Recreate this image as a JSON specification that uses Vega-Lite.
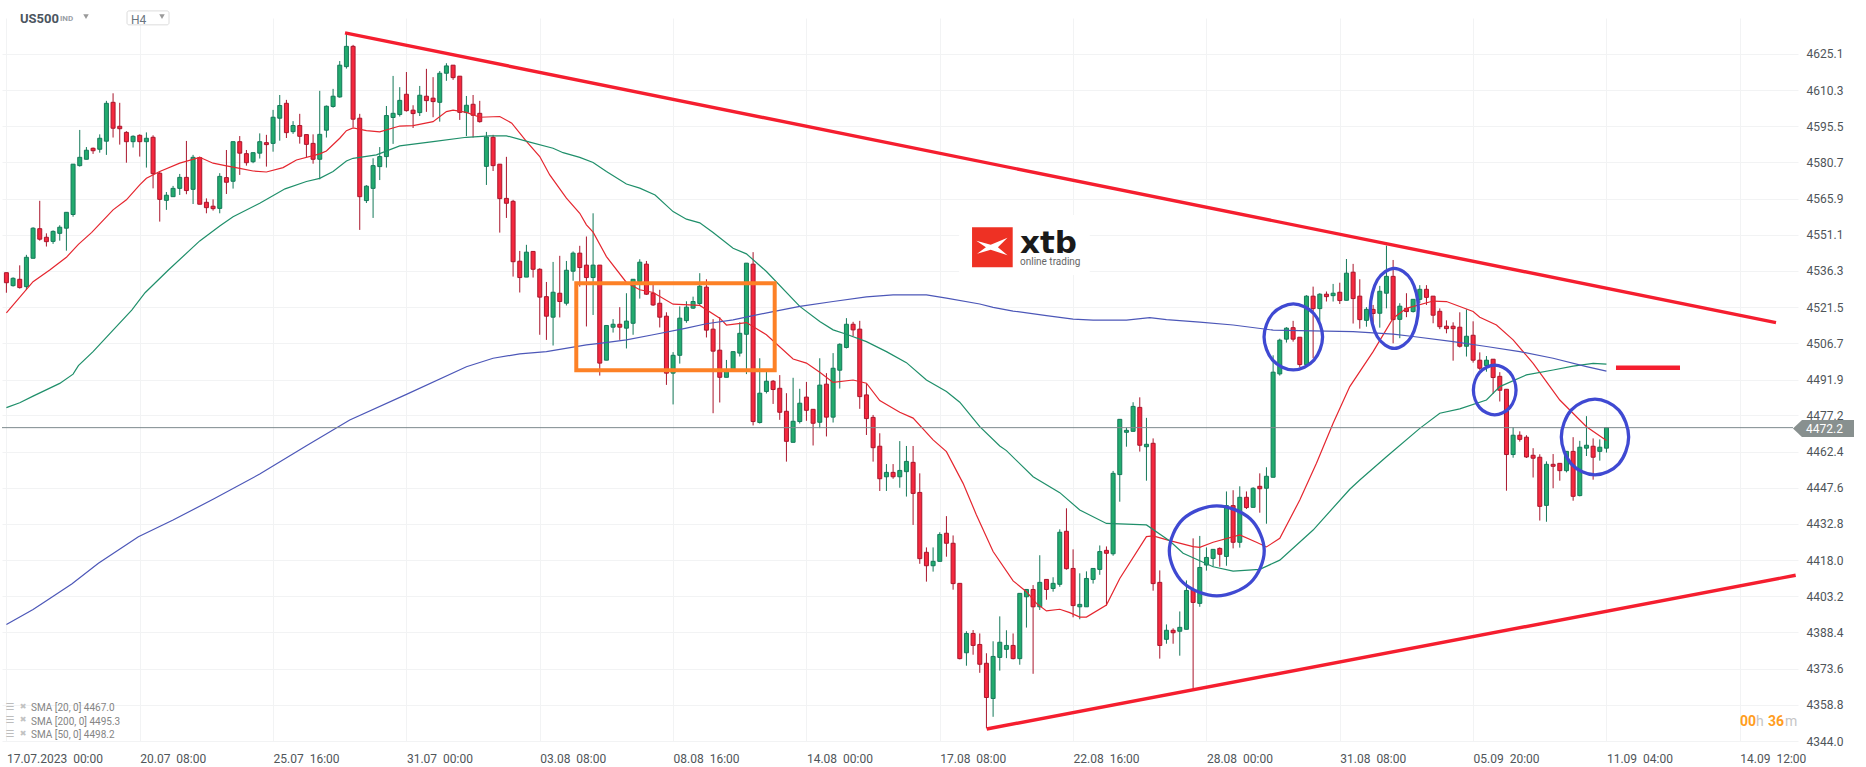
{
"$schema":"https://vega.github.io/schema/vega-lite/v6.json",
"width":1796,"height":723,
"autosize":{"type":"none"},
"padding":{"left":2,"top":18,"right":68,"bottom":26},
"background":"white",
"config":{"view":{"stroke":null},"font":"Roboto"},
"datasets":{
"candles":[
{"i":0,"o":4535.6,"h":4535.6,"l":4527.4,"c":4531.5,"d":"d"},{"i":1,"o":4530.3,"h":4533.7,"l":4529.9,"c":4533.3,"d":"u"},{"i":2,"o":4532.9,"h":4538.6,"l":4529.1,"c":4529.5,"d":"d"},{"i":3,"o":4529.9,"h":4542.9,"l":4528.5,"c":4541.9,"d":"u"},{"i":4,"o":4541.5,"h":4554.2,"l":4541.5,"c":4553.8,"d":"u"},{"i":5,"o":4553.6,"h":4565,"l":4548.7,"c":4549.3,"d":"d"},{"i":6,"o":4550.1,"h":4551.7,"l":4546.3,"c":4548.3,"d":"d"},{"i":7,"o":4548.4,"h":4552.9,"l":4547.4,"c":4552.5,"d":"u"},{"i":8,"o":4551.7,"h":4555,"l":4548.7,"c":4554.2,"d":"u"},{"i":9,"o":4553.8,"h":4560.3,"l":4544.6,"c":4560.3,"d":"u"},
{"i":10,"o":4559.4,"h":4580,"l":4558.5,"c":4580,"d":"u"},{"i":11,"o":4579.4,"h":4594,"l":4579,"c":4582.8,"d":"u"},{"i":12,"o":4582,"h":4587,"l":4582,"c":4585.7,"d":"u"},{"i":13,"o":4586.5,"h":4586.8,"l":4584.2,"c":4585.5,"d":"d"},{"i":14,"o":4586.1,"h":4592.2,"l":4584.7,"c":4590.6,"d":"u"},{"i":15,"o":4589.4,"h":4605.9,"l":4583.8,"c":4604.9,"d":"u"},{"i":16,"o":4605.3,"h":4609,"l":4590.9,"c":4594.7,"d":"d"},{"i":17,"o":4595.5,"h":4605.1,"l":4588,"c":4594.5,"d":"d"},{"i":18,"o":4593,"h":4593.5,"l":4580.6,"c":4589.2,"d":"d"},{"i":19,"o":4589.2,"h":4591.8,"l":4586.8,"c":4591.4,"d":"u"},
{"i":20,"o":4591.8,"h":4592.2,"l":4583.1,"c":4589.2,"d":"d"},{"i":21,"o":4589.2,"h":4593,"l":4578.6,"c":4590.6,"d":"u"},{"i":22,"o":4591,"h":4591.8,"l":4570.1,"c":4576.1,"d":"d"},{"i":23,"o":4576.3,"h":4577,"l":4556.5,"c":4565.6,"d":"d"},{"i":24,"o":4565.2,"h":4568.6,"l":4561.3,"c":4567.3,"d":"u"},{"i":25,"o":4566.7,"h":4571.1,"l":4566.7,"c":4570.1,"d":"u"},{"i":26,"o":4570.1,"h":4576,"l":4567.4,"c":4574.6,"d":"u"},{"i":27,"o":4574.6,"h":4589.5,"l":4567.7,"c":4569.2,"d":"d"},{"i":28,"o":4569.7,"h":4583.8,"l":4563.7,"c":4582.8,"d":"u"},{"i":29,"o":4582.7,"h":4583.1,"l":4563.6,"c":4563.6,"d":"d"},
{"i":30,"o":4564.4,"h":4566,"l":4559.9,"c":4562.2,"d":"d"},{"i":31,"o":4562.8,"h":4565.6,"l":4561,"c":4561.8,"d":"d"},{"i":32,"o":4561.9,"h":4576.3,"l":4559.9,"c":4575,"d":"u"},{"i":33,"o":4574.5,"h":4585.8,"l":4567.8,"c":4572.6,"d":"d"},{"i":34,"o":4573,"h":4589.2,"l":4570,"c":4589.2,"d":"u"},{"i":35,"o":4589.2,"h":4591.5,"l":4575.6,"c":4584.5,"d":"d"},{"i":36,"o":4584.3,"h":4585.8,"l":4579.4,"c":4580.6,"d":"d"},{"i":37,"o":4581,"h":4584.7,"l":4580.4,"c":4584.7,"d":"u"},{"i":38,"o":4584.5,"h":4592.6,"l":4582.3,"c":4589.2,"d":"u"},{"i":39,"o":4588.8,"h":4592,"l":4579,"c":4588,"d":"d"},
{"i":40,"o":4588.5,"h":4602.2,"l":4585.1,"c":4599.2,"d":"u"},{"i":41,"o":4598.8,"h":4608.3,"l":4589.6,"c":4604,"d":"u"},{"i":42,"o":4604.9,"h":4606.3,"l":4590.7,"c":4592.9,"d":"d"},{"i":43,"o":4593.3,"h":4597.6,"l":4592.4,"c":4595.8,"d":"u"},{"i":44,"o":4595.8,"h":4600.6,"l":4588.4,"c":4591.4,"d":"d"},{"i":45,"o":4592.1,"h":4592.1,"l":4582.7,"c":4588.1,"d":"d"},{"i":46,"o":4588.5,"h":4592.2,"l":4580.2,"c":4582,"d":"d"},{"i":47,"o":4582,"h":4610,"l":4573.8,"c":4592.2,"d":"u"},{"i":48,"o":4593.9,"h":4604,"l":4590.9,"c":4603.7,"d":"u"},{"i":49,"o":4603.6,"h":4610.8,"l":4603.1,"c":4607.8,"d":"u"},
{"i":50,"o":4607.5,"h":4622.2,"l":4607.2,"c":4620.5,"d":"u"},{"i":51,"o":4619.9,"h":4634,"l":4619.1,"c":4628.2,"d":"u"},{"i":52,"o":4628.2,"h":4628.8,"l":4595.1,"c":4598.4,"d":"d"},{"i":53,"o":4598.8,"h":4600.6,"l":4553.1,"c":4566.7,"d":"d"},{"i":54,"o":4565.1,"h":4571.4,"l":4564.1,"c":4571,"d":"u"},{"i":55,"o":4570.1,"h":4582.4,"l":4558,"c":4579.4,"d":"u"},{"i":56,"o":4579,"h":4587,"l":4573.5,"c":4583.1,"d":"u"},{"i":57,"o":4583.1,"h":4603.8,"l":4578.6,"c":4599.9,"d":"u"},{"i":58,"o":4599.1,"h":4616.1,"l":4588.3,"c":4600.8,"d":"u"},{"i":59,"o":4600.3,"h":4611.5,"l":4599.5,"c":4606.1,"d":"u"},
{"i":60,"o":4608.6,"h":4617.7,"l":4601.5,"c":4601.9,"d":"d"},{"i":61,"o":4602.1,"h":4604.1,"l":4594.8,"c":4600.7,"d":"d"},{"i":62,"o":4601.1,"h":4612,"l":4599.7,"c":4608.2,"d":"u"},{"i":63,"o":4607.8,"h":4619,"l":4601.4,"c":4606,"d":"d"},{"i":64,"o":4607,"h":4615.6,"l":4599.2,"c":4605.6,"d":"d"},{"i":65,"o":4605.3,"h":4618.1,"l":4597.4,"c":4617.2,"d":"u"},{"i":66,"o":4617.2,"h":4621.3,"l":4614.1,"c":4620.2,"d":"u"},{"i":67,"o":4620.5,"h":4620.5,"l":4614.5,"c":4615.4,"d":"d"},{"i":68,"o":4616,"h":4616,"l":4598.1,"c":4601.2,"d":"d"},{"i":69,"o":4601.1,"h":4607.9,"l":4591.5,"c":4604.1,"d":"u"},
{"i":70,"o":4604.5,"h":4608.3,"l":4590.9,"c":4600,"d":"d"},{"i":71,"o":4600.8,"h":4605.9,"l":4597,"c":4597.4,"d":"d"},{"i":72,"o":4579.1,"h":4593.2,"l":4571.5,"c":4591.1,"d":"u"},{"i":73,"o":4591,"h":4592,"l":4577.2,"c":4579.4,"d":"d"},{"i":74,"o":4580,"h":4580,"l":4552,"c":4565.9,"d":"d"},{"i":75,"o":4566,"h":4583,"l":4558,"c":4564,"d":"d"},{"i":76,"o":4564.8,"h":4565.4,"l":4534,"c":4540.1,"d":"d"},{"i":77,"o":4540.3,"h":4544.5,"l":4527.5,"c":4533.6,"d":"d"},{"i":78,"o":4533.8,"h":4547,"l":4533.8,"c":4544,"d":"u"},{"i":79,"o":4544.3,"h":4544.3,"l":4533.6,"c":4537,"d":"d"},
{"i":80,"o":4537,"h":4537.4,"l":4510.2,"c":4525.6,"d":"d"},{"i":81,"o":4525.8,"h":4531.8,"l":4508.1,"c":4517.8,"d":"d"},{"i":82,"o":4517.4,"h":4540,"l":4505.8,"c":4527.6,"d":"u"},{"i":83,"o":4527.2,"h":4542.5,"l":4517.3,"c":4523.8,"d":"d"},{"i":84,"o":4523.1,"h":4540.4,"l":4522.2,"c":4536.6,"d":"u"},{"i":85,"o":4536.2,"h":4544.3,"l":4532.3,"c":4543.6,"d":"u"},{"i":86,"o":4543.6,"h":4546.6,"l":4529.9,"c":4537.7,"d":"d"},{"i":87,"o":4538.7,"h":4550.4,"l":4513.6,"c":4533.6,"d":"d"},{"i":88,"o":4533.6,"h":4559.9,"l":4518.3,"c":4538.7,"d":"u"},{"i":89,"o":4538.7,"h":4538.7,"l":4493.5,"c":4498.6,"d":"d"},
{"i":90,"o":4499.8,"h":4514,"l":4499.8,"c":4514,"d":"u"},{"i":91,"o":4513.3,"h":4516.6,"l":4511.1,"c":4514.5,"d":"u"},{"i":92,"o":4514.5,"h":4521.5,"l":4508.1,"c":4513.3,"d":"d"},{"i":93,"o":4512.9,"h":4527.2,"l":4504.6,"c":4515.8,"d":"u"},{"i":94,"o":4514.9,"h":4532.9,"l":4510.2,"c":4532.9,"d":"u"},{"i":95,"o":4532,"h":4541.1,"l":4525,"c":4539.9,"d":"u"},{"i":96,"o":4539.1,"h":4540.4,"l":4526.5,"c":4526.8,"d":"d"},{"i":97,"o":4527.2,"h":4530.6,"l":4522,"c":4522.4,"d":"d"},{"i":98,"o":4523.1,"h":4528.6,"l":4513.2,"c":4517.4,"d":"d"},{"i":99,"o":4517.8,"h":4519.4,"l":4489.7,"c":4494.5,"d":"d"},
{"i":100,"o":4494.5,"h":4503.1,"l":4481.7,"c":4501.8,"d":"u"},{"i":101,"o":4501.8,"h":4521.8,"l":4498.4,"c":4517,"d":"u"},{"i":102,"o":4516,"h":4523.9,"l":4515.1,"c":4521.5,"d":"u"},{"i":103,"o":4521.1,"h":4525.8,"l":4520.8,"c":4523.8,"d":"u"},{"i":104,"o":4523,"h":4535.4,"l":4522,"c":4530.1,"d":"u"},{"i":105,"o":4529.7,"h":4532.9,"l":4509.1,"c":4512.1,"d":"d"},{"i":106,"o":4512.5,"h":4516.6,"l":4478.1,"c":4503.5,"d":"d"},{"i":107,"o":4503.9,"h":4517.4,"l":4482.5,"c":4492.8,"d":"d"},{"i":108,"o":4492.8,"h":4499.9,"l":4492.8,"c":4495.8,"d":"u"},{"i":109,"o":4495.8,"h":4503.3,"l":4495.8,"c":4503.3,"d":"u"},
{"i":110,"o":4502.7,"h":4515.3,"l":4501.3,"c":4510.8,"d":"u"},{"i":111,"o":4510.4,"h":4539.5,"l":4494.1,"c":4539.5,"d":"u"},{"i":112,"o":4539.1,"h":4544,"l":4473.1,"c":4474.7,"d":"d"},{"i":113,"o":4474.3,"h":4500.6,"l":4473.9,"c":4486.3,"d":"u"},{"i":114,"o":4487,"h":4495.2,"l":4486.2,"c":4491.2,"d":"u"},{"i":115,"o":4491.2,"h":4491.7,"l":4481.9,"c":4487.8,"d":"d"},{"i":116,"o":4488.3,"h":4493.7,"l":4475.4,"c":4478.5,"d":"d"},{"i":117,"o":4478.9,"h":4486.3,"l":4458.3,"c":4466.6,"d":"d"},{"i":118,"o":4466.2,"h":4492.6,"l":4466.2,"c":4474.8,"d":"u"},{"i":119,"o":4474.7,"h":4488.1,"l":4473.9,"c":4482.2,"d":"u"},
{"i":120,"o":4484.7,"h":4490.9,"l":4475,"c":4479.3,"d":"d"},{"i":121,"o":4479.7,"h":4479.7,"l":4464.9,"c":4474,"d":"d"},{"i":122,"o":4474.4,"h":4500.6,"l":4472,"c":4489.6,"d":"u"},{"i":123,"o":4490,"h":4494.5,"l":4468.6,"c":4476.5,"d":"d"},{"i":124,"o":4476.5,"h":4502.7,"l":4474.3,"c":4496.5,"d":"u"},{"i":125,"o":4495.7,"h":4506.7,"l":4488.2,"c":4506.3,"d":"u"},{"i":126,"o":4505,"h":4517,"l":4504.6,"c":4514.5,"d":"u"},{"i":127,"o":4514.5,"h":4515.5,"l":4509.7,"c":4512.2,"d":"d"},{"i":128,"o":4512.5,"h":4515.9,"l":4479.9,"c":4484.9,"d":"d"},{"i":129,"o":4485.6,"h":4490.1,"l":4469.2,"c":4475.9,"d":"d"},
{"i":130,"o":4476.4,"h":4477.4,"l":4458.3,"c":4464,"d":"d"},{"i":131,"o":4464.6,"h":4469.9,"l":4446.3,"c":4451.3,"d":"d"},{"i":132,"o":4452.1,"h":4457.3,"l":4446.3,"c":4453.9,"d":"u"},{"i":133,"o":4453.9,"h":4457.3,"l":4451.3,"c":4452.1,"d":"d"},{"i":134,"o":4452.1,"h":4466.7,"l":4447.6,"c":4454.7,"d":"u"},{"i":135,"o":4454.2,"h":4464.7,"l":4444,"c":4458.4,"d":"u"},{"i":136,"o":4458,"h":4464.7,"l":4432.4,"c":4445.3,"d":"d"},{"i":137,"o":4445.7,"h":4453.5,"l":4416.5,"c":4418.6,"d":"d"},{"i":138,"o":4421.2,"h":4423.2,"l":4409.2,"c":4415.7,"d":"d"},{"i":139,"o":4415.7,"h":4423.2,"l":4413.3,"c":4417.5,"d":"u"},
{"i":140,"o":4417.5,"h":4429.4,"l":4417.5,"c":4428.5,"d":"u"},{"i":141,"o":4429,"h":4436,"l":4419.4,"c":4424.9,"d":"d"},{"i":142,"o":4424.9,"h":4428.1,"l":4405.9,"c":4408.4,"d":"d"},{"i":143,"o":4408.5,"h":4408.5,"l":4377.4,"c":4377.7,"d":"d"},{"i":144,"o":4380.1,"h":4388.9,"l":4374.8,"c":4388,"d":"u"},{"i":145,"o":4388,"h":4389.4,"l":4379.3,"c":4383.1,"d":"d"},{"i":146,"o":4383.5,"h":4388,"l":4371.9,"c":4375.4,"d":"d"},{"i":147,"o":4375.8,"h":4379.9,"l":4349.2,"c":4361.8,"d":"d"},{"i":148,"o":4361.4,"h":4384.8,"l":4353.9,"c":4378.6,"d":"u"},{"i":149,"o":4378.2,"h":4395,"l":4372.8,"c":4384.4,"d":"u"},
{"i":150,"o":4381.5,"h":4389.3,"l":4377.9,"c":4383.1,"d":"u"},{"i":151,"o":4383.1,"h":4388,"l":4377.4,"c":4377.7,"d":"d"},{"i":152,"o":4377.7,"h":4404.4,"l":4375.2,"c":4404.4,"d":"u"},{"i":153,"o":4403,"h":4406,"l":4390.4,"c":4406,"d":"u"},{"i":154,"o":4406,"h":4407.8,"l":4371.5,"c":4398.9,"d":"d"},{"i":155,"o":4398.9,"h":4420,"l":4397.6,"c":4408.9,"d":"u"},{"i":156,"o":4410.1,"h":4410.1,"l":4401.8,"c":4406,"d":"d"},{"i":157,"o":4406.4,"h":4411,"l":4405.1,"c":4408.5,"d":"u"},{"i":158,"o":4408.1,"h":4430.6,"l":4407.1,"c":4429.4,"d":"u"},{"i":159,"o":4429.8,"h":4439.2,"l":4414.1,"c":4414.5,"d":"d"},
{"i":160,"o":4414.6,"h":4422.4,"l":4394.6,"c":4399.4,"d":"d"},{"i":161,"o":4398.9,"h":4412.6,"l":4393.8,"c":4399.9,"d":"u"},{"i":162,"o":4398.9,"h":4413.4,"l":4398.9,"c":4410.5,"d":"u"},{"i":163,"o":4410.1,"h":4414.6,"l":4408.4,"c":4414.6,"d":"u"},{"i":164,"o":4414.2,"h":4424,"l":4412,"c":4421.5,"d":"u"},{"i":165,"o":4422,"h":4423.6,"l":4399.4,"c":4420.8,"d":"d"},{"i":166,"o":4420.6,"h":4454.5,"l":4419.8,"c":4453.5,"d":"u"},{"i":167,"o":4453,"h":4475.6,"l":4441.9,"c":4475.6,"d":"u"},{"i":168,"o":4470.3,"h":4472.3,"l":4464.4,"c":4471.1,"d":"u"},{"i":169,"o":4470.7,"h":4482.6,"l":4470.6,"c":4480.9,"d":"u"},
{"i":170,"o":4480.5,"h":4484.6,"l":4462.4,"c":4465,"d":"d"},{"i":171,"o":4464.4,"h":4476.2,"l":4450.5,"c":4465.4,"d":"u"},{"i":172,"o":4465.8,"h":4467.8,"l":4405.5,"c":4408.4,"d":"d"},{"i":173,"o":4408.9,"h":4413.8,"l":4377.7,"c":4383.1,"d":"d"},{"i":174,"o":4385.6,"h":4391.7,"l":4383.8,"c":4389.3,"d":"u"},{"i":175,"o":4389.3,"h":4390.1,"l":4383.8,"c":4388.3,"d":"d"},{"i":176,"o":4388.9,"h":4397,"l":4378.9,"c":4390.5,"d":"u"},{"i":177,"o":4389.7,"h":4409.7,"l":4389.7,"c":4405.6,"d":"u"},{"i":178,"o":4405.8,"h":4426.9,"l":4365.1,"c":4400.7,"d":"d"},{"i":179,"o":4400.3,"h":4427.9,"l":4398.9,"c":4415,"d":"u"},
{"i":180,"o":4416,"h":4423.2,"l":4413.7,"c":4419.1,"d":"u"},{"i":181,"o":4418.7,"h":4422.4,"l":4415.3,"c":4422.4,"d":"u"},{"i":182,"o":4422.8,"h":4423.2,"l":4415.3,"c":4420.4,"d":"d"},{"i":183,"o":4419.5,"h":4446.1,"l":4415.7,"c":4440.3,"d":"u"},{"i":184,"o":4440.3,"h":4446.6,"l":4422.8,"c":4425.3,"d":"d"},{"i":185,"o":4425.3,"h":4448.2,"l":4423.1,"c":4443.7,"d":"u"},{"i":186,"o":4443.7,"h":4446.1,"l":4438.9,"c":4439.5,"d":"d"},{"i":187,"o":4439.6,"h":4447.8,"l":4439.6,"c":4447.4,"d":"u"},{"i":188,"o":4448.2,"h":4453.5,"l":4437.4,"c":4447.2,"d":"d"},{"i":189,"o":4447.4,"h":4456,"l":4432.9,"c":4452.3,"d":"u"},
{"i":190,"o":4451.9,"h":4501.8,"l":4451.9,"c":4494.9,"d":"u"},{"i":191,"o":4494.2,"h":4508.6,"l":4493.5,"c":4508,"d":"u"},{"i":192,"o":4508.4,"h":4513.3,"l":4507,"c":4512.9,"d":"u"},{"i":193,"o":4513.1,"h":4515.9,"l":4507.4,"c":4508.4,"d":"d"},{"i":194,"o":4509.2,"h":4509.2,"l":4496.9,"c":4498,"d":"d"},{"i":195,"o":4498,"h":4526.4,"l":4497.2,"c":4526,"d":"u"},{"i":196,"o":4526,"h":4529.9,"l":4500.6,"c":4520.9,"d":"d"},{"i":197,"o":4520.9,"h":4527.2,"l":4515.6,"c":4526.8,"d":"u"},{"i":198,"o":4526.8,"h":4527.9,"l":4523.8,"c":4525.8,"d":"d"},{"i":199,"o":4526.2,"h":4531,"l":4523.8,"c":4527.2,"d":"u"},
{"i":200,"o":4527.6,"h":4531.5,"l":4522.8,"c":4524.2,"d":"d"},{"i":201,"o":4524.3,"h":4541.2,"l":4524.3,"c":4535.4,"d":"u"},{"i":202,"o":4535.8,"h":4539.2,"l":4514.8,"c":4525,"d":"d"},{"i":203,"o":4526,"h":4532.9,"l":4512.7,"c":4516.4,"d":"d"},{"i":204,"o":4516.1,"h":4521.5,"l":4513.5,"c":4520.6,"d":"u"},{"i":205,"o":4520.6,"h":4522.4,"l":4513.5,"c":4518.9,"d":"d"},{"i":206,"o":4519,"h":4530.2,"l":4513.1,"c":4528,"d":"u"},{"i":207,"o":4527.2,"h":4546.7,"l":4521,"c":4534.1,"d":"u"},{"i":208,"o":4534.1,"h":4540.8,"l":4506.7,"c":4516.4,"d":"d"},{"i":209,"o":4516.5,"h":4523.1,"l":4508.8,"c":4521.9,"d":"u"},
{"i":210,"o":4521,"h":4527.2,"l":4517.4,"c":4519.7,"d":"d"},{"i":211,"o":4519.7,"h":4524.7,"l":4519.3,"c":4524.7,"d":"u"},{"i":212,"o":4524.7,"h":4530.5,"l":4523.1,"c":4528.8,"d":"u"},{"i":213,"o":4528.8,"h":4530.5,"l":4522.4,"c":4525.5,"d":"d"},{"i":214,"o":4526,"h":4526,"l":4514.9,"c":4518.2,"d":"d"},{"i":215,"o":4519.8,"h":4521,"l":4512.5,"c":4513.5,"d":"d"},{"i":216,"o":4513.7,"h":4516.1,"l":4510.8,"c":4512.7,"d":"d"},{"i":217,"o":4513.7,"h":4515.3,"l":4499.6,"c":4512.7,"d":"d"},{"i":218,"o":4513.3,"h":4519.4,"l":4505,"c":4505.5,"d":"d"},{"i":219,"o":4505.5,"h":4520.6,"l":4501.3,"c":4509.6,"d":"u"},
{"i":220,"o":4510,"h":4515.7,"l":4498.8,"c":4499.8,"d":"d"},{"i":221,"o":4499.8,"h":4503,"l":4495.8,"c":4496.5,"d":"d"},{"i":222,"o":4497.6,"h":4501.5,"l":4495.1,"c":4499.8,"d":"u"},{"i":223,"o":4500.2,"h":4500.2,"l":4486,"c":4492.7,"d":"d"},{"i":224,"o":4493.2,"h":4494.9,"l":4482.9,"c":4487.5,"d":"d"},{"i":225,"o":4487.9,"h":4487.9,"l":4446.4,"c":4461.2,"d":"d"},{"i":226,"o":4461.2,"h":4472.4,"l":4459.9,"c":4469.1,"d":"u"},{"i":227,"o":4469.1,"h":4470.7,"l":4466.5,"c":4467.4,"d":"d"},{"i":228,"o":4468.3,"h":4469.1,"l":4459.8,"c":4460.2,"d":"d"},{"i":229,"o":4460.9,"h":4463.8,"l":4451.8,"c":4459.7,"d":"d"},
{"i":230,"o":4460.1,"h":4461.3,"l":4434.2,"c":4440,"d":"d"},{"i":231,"o":4440.4,"h":4458.4,"l":4433.7,"c":4457.2,"d":"u"},{"i":232,"o":4457.2,"h":4461.4,"l":4447.4,"c":4456.4,"d":"d"},{"i":233,"o":4457.6,"h":4457.6,"l":4450.5,"c":4454.6,"d":"d"},{"i":234,"o":4454.6,"h":4462.5,"l":4453.9,"c":4462.5,"d":"u"},{"i":235,"o":4462.5,"h":4468.3,"l":4442.3,"c":4444.1,"d":"d"},{"i":236,"o":4444.4,"h":4466.8,"l":4444.1,"c":4464.2,"d":"u"},{"i":237,"o":4463.8,"h":4476.9,"l":4460.6,"c":4465,"d":"u"},{"i":238,"o":4464.6,"h":4467.8,"l":4450.9,"c":4460.1,"d":"d"},{"i":239,"o":4462.5,"h":4467.4,"l":4458.7,"c":4464.2,"d":"u"},{"i":240,"o":4463.8,"h":4472.4,"l":4462,"c":4472.2,"d":"u"}
],
"sma":[
{"s":"sma20","i":0,"p":4519.2},{"s":"sma20","i":4,"p":4531.9},{"s":"sma20","i":6.5,"p":4536.7},{"s":"sma20","i":9,"p":4541.9},{"s":"sma20","i":10.8,"p":4547.2},{"s":"sma20","i":12.8,"p":4552.1},{"s":"sma20","i":16,"p":4561.3},{"s":"sma20","i":18,"p":4565.4},{"s":"sma20","i":20,"p":4571.5},{"s":"sma20","i":21,"p":4574.2},{"s":"sma20","i":23,"p":4577},{"s":"sma20","i":26,"p":4580.4},{"s":"sma20","i":29,"p":4582.8},{"s":"sma20","i":31,"p":4580.4},{"s":"sma20","i":33,"p":4579.3},{"s":"sma20","i":35,"p":4578.3},{"s":"sma20","i":37,"p":4577.2},{"s":"sma20","i":39,"p":4576.8},{"s":"sma20","i":41.5,"p":4578.6},{"s":"sma20","i":43.5,"p":4581.7},{"s":"sma20","i":47,"p":4584.2},{"s":"sma20","i":48,"p":4585.4},{"s":"sma20","i":50,"p":4590.6},{"s":"sma20","i":51,"p":4593.7},{"s":"sma20","i":52,"p":4594.8},{"s":"sma20","i":54,"p":4593.7},{"s":"sma20","i":56,"p":4593.2},{"s":"sma20","i":59,"p":4595.6},{"s":"sma20","i":61,"p":4595.8},{"s":"sma20","i":64,"p":4597.4},{"s":"sma20","i":66,"p":4601.5},{"s":"sma20","i":67,"p":4602.1},{"s":"sma20","i":69,"p":4601.2},{"s":"sma20","i":71,"p":4599.2},{"s":"sma20","i":74,"p":4599.5},{"s":"sma20","i":75.8,"p":4596.8},{"s":"sma20","i":78,"p":4589.3},{"s":"sma20","i":80,"p":4583.1},{"s":"sma20","i":81.5,"p":4575.6},{"s":"sma20","i":84,"p":4566.1},{"s":"sma20","i":86,"p":4559.9},{"s":"sma20","i":87,"p":4555.2},{"s":"sma20","i":88,"p":4552.2},{"s":"sma20","i":90,"p":4542.2},{"s":"sma20","i":93,"p":4531.6},{"s":"sma20","i":95,"p":4528.6},{"s":"sma20","i":97,"p":4527.5},{"s":"sma20","i":100,"p":4522.7},{"s":"sma20","i":104,"p":4522.2},{"s":"sma20","i":107,"p":4517},{"s":"sma20","i":108,"p":4514.2},{"s":"sma20","i":111,"p":4515.2},{"s":"sma20","i":114,"p":4510.2},{"s":"sma20","i":118,"p":4500.3},{"s":"sma20","i":120,"p":4498.6},{"s":"sma20","i":122,"p":4494.9},{"s":"sma20","i":124,"p":4490.7},{"s":"sma20","i":127,"p":4491.7},{"s":"sma20","i":129,"p":4490.4},{"s":"sma20","i":131,"p":4483.3},{"s":"sma20","i":134,"p":4478.5},{"s":"sma20","i":136,"p":4476.1},{"s":"sma20","i":139,"p":4467.2},{"s":"sma20","i":141,"p":4462.4},{"s":"sma20","i":143.5,"p":4449.4},{"s":"sma20","i":145.5,"p":4436.5},{"s":"sma20","i":148,"p":4421.5},{"s":"sma20","i":151,"p":4409.5},{"s":"sma20","i":153,"p":4405.1},{"s":"sma20","i":154.5,"p":4400.3},{"s":"sma20","i":156,"p":4397.2},{"s":"sma20","i":158,"p":4397.9},{"s":"sma20","i":159.5,"p":4396.5},{"s":"sma20","i":161,"p":4394.7},{"s":"sma20","i":162,"p":4394.7},{"s":"sma20","i":165,"p":4399.6},{"s":"sma20","i":167,"p":4410.5},{"s":"sma20","i":171,"p":4427.6},{"s":"sma20","i":172,"p":4427.9},{"s":"sma20","i":174.5,"p":4426},{"s":"sma20","i":178,"p":4423.5},{"s":"sma20","i":179,"p":4423.2},{"s":"sma20","i":181,"p":4425.3},{"s":"sma20","i":185,"p":4428.3},{"s":"sma20","i":187.5,"p":4425.3},{"s":"sma20","i":189,"p":4423.4},{"s":"sma20","i":191,"p":4426.9},{"s":"sma20","i":194,"p":4442.6},{"s":"sma20","i":196.5,"p":4457.6},{"s":"sma20","i":199,"p":4474},{"s":"sma20","i":201.5,"p":4489},{"s":"sma20","i":205,"p":4503.3},{"s":"sma20","i":208,"p":4517},{"s":"sma20","i":210,"p":4521},{"s":"sma20","i":214,"p":4524},{"s":"sma20","i":216,"p":4523.8},{"s":"sma20","i":220,"p":4519.7},{"s":"sma20","i":221,"p":4517.4},{"s":"sma20","i":223.5,"p":4514.2},{"s":"sma20","i":226,"p":4508.1},{"s":"sma20","i":229,"p":4498.5},{"s":"sma20","i":233,"p":4483.5},{"s":"sma20","i":237,"p":4472.6},{"s":"sma20","i":240,"p":4466.9},
{"s":"sma50","i":0,"p":4480.4},{"s":"sma50","i":2,"p":4482.4},{"s":"sma50","i":4,"p":4485.1},{"s":"sma50","i":8,"p":4490.3},{"s":"sma50","i":10,"p":4494.1},{"s":"sma50","i":10.8,"p":4497.6},{"s":"sma50","i":13,"p":4503.3},{"s":"sma50","i":16,"p":4512.1},{"s":"sma50","i":18.8,"p":4520.3},{"s":"sma50","i":20.8,"p":4527.4},{"s":"sma50","i":24.3,"p":4536.7},{"s":"sma50","i":29,"p":4548.6},{"s":"sma50","i":32,"p":4554.7},{"s":"sma50","i":34,"p":4558.5},{"s":"sma50","i":38,"p":4564},{"s":"sma50","i":41.8,"p":4569.9},{"s":"sma50","i":45,"p":4572.9},{"s":"sma50","i":47,"p":4574.2},{"s":"sma50","i":49,"p":4577},{"s":"sma50","i":51,"p":4581.3},{"s":"sma50","i":52,"p":4582.4},{"s":"sma50","i":55.5,"p":4583.8},{"s":"sma50","i":59,"p":4587.5},{"s":"sma50","i":64,"p":4589.2},{"s":"sma50","i":69,"p":4591},{"s":"sma50","i":72.5,"p":4591.6},{"s":"sma50","i":75,"p":4591.6},{"s":"sma50","i":78.5,"p":4589},{"s":"sma50","i":82,"p":4586.5},{"s":"sma50","i":83.5,"p":4584.7},{"s":"sma50","i":86,"p":4582.8},{"s":"sma50","i":88,"p":4580.7},{"s":"sma50","i":90,"p":4577},{"s":"sma50","i":93,"p":4571.9},{"s":"sma50","i":95,"p":4570.2},{"s":"sma50","i":97.3,"p":4567.4},{"s":"sma50","i":100,"p":4560.6},{"s":"sma50","i":102,"p":4557.5},{"s":"sma50","i":104,"p":4556},{"s":"sma50","i":106,"p":4552},{"s":"sma50","i":109,"p":4545.6},{"s":"sma50","i":111,"p":4543.3},{"s":"sma50","i":114,"p":4536.1},{"s":"sma50","i":119,"p":4521.8},{"s":"sma50","i":122,"p":4515.6},{"s":"sma50","i":124,"p":4512.2},{"s":"sma50","i":126,"p":4510.4},{"s":"sma50","i":129,"p":4507.4},{"s":"sma50","i":132,"p":4503.3},{"s":"sma50","i":135,"p":4498.8},{"s":"sma50","i":138,"p":4491.7},{"s":"sma50","i":141,"p":4487},{"s":"sma50","i":143,"p":4482.6},{"s":"sma50","i":146,"p":4472.6},{"s":"sma50","i":149,"p":4464.7},{"s":"sma50","i":150,"p":4462.8},{"s":"sma50","i":154,"p":4452.1},{"s":"sma50","i":158,"p":4445.6},{"s":"sma50","i":161,"p":4438.5},{"s":"sma50","i":165,"p":4433},{"s":"sma50","i":171,"p":4432.4},{"s":"sma50","i":174.5,"p":4425.8},{"s":"sma50","i":176.5,"p":4420.8},{"s":"sma50","i":181,"p":4415.3},{"s":"sma50","i":184,"p":4413.5},{"s":"sma50","i":188,"p":4414.2},{"s":"sma50","i":191,"p":4418},{"s":"sma50","i":196,"p":4430.3},{"s":"sma50","i":201.5,"p":4447},{"s":"sma50","i":203,"p":4450.8},{"s":"sma50","i":207,"p":4460.3},{"s":"sma50","i":212,"p":4471.9},{"s":"sma50","i":215,"p":4478.1},{"s":"sma50","i":218,"p":4479.9},{"s":"sma50","i":222,"p":4483.5},{"s":"sma50","i":224,"p":4489},{"s":"sma50","i":228,"p":4493.8},{"s":"sma50","i":232,"p":4495.8},{"s":"sma50","i":235,"p":4497.4},{"s":"sma50","i":238,"p":4498.5},{"s":"sma50","i":240,"p":4498.2},
{"s":"sma200","i":0,"p":4391.7},{"s":"sma200","i":4,"p":4397.8},{"s":"sma200","i":6,"p":4401.4},{"s":"sma200","i":9.8,"p":4408.2},{"s":"sma200","i":13.8,"p":4416.7},{"s":"sma200","i":19.8,"p":4427.6},{"s":"sma200","i":25,"p":4434.4},{"s":"sma200","i":31,"p":4442.9},{"s":"sma200","i":38,"p":4453.2},{"s":"sma200","i":45,"p":4464.8},{"s":"sma200","i":51.5,"p":4475.3},{"s":"sma200","i":60,"p":4485.8},{"s":"sma200","i":69,"p":4497.1},{"s":"sma200","i":73,"p":4500.6},{"s":"sma200","i":77,"p":4502.4},{"s":"sma200","i":81,"p":4503.3},{"s":"sma200","i":87,"p":4506.1},{"s":"sma200","i":89,"p":4506.7},{"s":"sma200","i":93,"p":4508.1},{"s":"sma200","i":97,"p":4510.2},{"s":"sma200","i":102,"p":4512.9},{"s":"sma200","i":105,"p":4514.7},{"s":"sma200","i":109,"p":4516.3},{"s":"sma200","i":112,"p":4518},{"s":"sma200","i":115,"p":4519.7},{"s":"sma200","i":119,"p":4521.8},{"s":"sma200","i":124,"p":4523.8},{"s":"sma200","i":129,"p":4525.7},{"s":"sma200","i":133,"p":4526.5},{"s":"sma200","i":138,"p":4526.5},{"s":"sma200","i":141,"p":4525.2},{"s":"sma200","i":146,"p":4522.8},{"s":"sma200","i":148,"p":4521.4},{"s":"sma200","i":151,"p":4519.9},{"s":"sma200","i":156,"p":4518},{"s":"sma200","i":160,"p":4516.6},{"s":"sma200","i":163,"p":4516.2},{"s":"sma200","i":168,"p":4516.2},{"s":"sma200","i":171.5,"p":4517.2},{"s":"sma200","i":174,"p":4516.4},{"s":"sma200","i":179,"p":4515.4},{"s":"sma200","i":184,"p":4514.2},{"s":"sma200","i":190,"p":4512.1},{"s":"sma200","i":194,"p":4511.9},{"s":"sma200","i":202,"p":4511.5},{"s":"sma200","i":208,"p":4510.5},{"s":"sma200","i":211,"p":4509.5},{"s":"sma200","i":217,"p":4507.4},{"s":"sma200","i":222,"p":4505.4},{"s":"sma200","i":227,"p":4503.3},{"s":"sma200","i":232,"p":4500.6},{"s":"sma200","i":237,"p":4497.2},{"s":"sma200","i":240,"p":4495.3}
],
"circles":[
{"e":1,"k":0,"i":188.67,"p":4421.8},{"e":1,"k":1,"i":186.6,"p":4434.8},{"e":1,"k":2,"i":181.55,"p":4440.2},{"e":1,"k":3,"i":176.5,"p":4434.8},{"e":1,"k":4,"i":174.43,"p":4421.8},{"e":1,"k":5,"i":176.5,"p":4408.8},{"e":1,"k":6,"i":181.55,"p":4403.4},{"e":1,"k":7,"i":186.6,"p":4408.8},
{"e":2,"k":0,"i":197.42,"p":4509.3},{"e":2,"k":1,"i":196.13,"p":4518.8},{"e":2,"k":2,"i":193.03,"p":4522.8},{"e":2,"k":3,"i":189.93,"p":4518.8},{"e":2,"k":4,"i":188.64,"p":4509.3},{"e":2,"k":5,"i":189.93,"p":4499.8},{"e":2,"k":6,"i":193.03,"p":4495.8},{"e":2,"k":7,"i":196.13,"p":4499.8},
{"e":3,"k":0,"i":211.78,"p":4521},{"e":3,"k":1,"i":210.73,"p":4532.6},{"e":3,"k":2,"i":208.18,"p":4537.4},{"e":3,"k":3,"i":205.63,"p":4532.6},{"e":3,"k":4,"i":204.58,"p":4521},{"e":3,"k":5,"i":205.63,"p":4509.4},{"e":3,"k":6,"i":208.18,"p":4504.6},{"e":3,"k":7,"i":210.73,"p":4509.4},
{"e":4,"k":0,"i":226.44,"p":4487.6},{"e":4,"k":1,"i":225.5,"p":4494.8},{"e":4,"k":2,"i":223.24,"p":4497.8},{"e":4,"k":3,"i":220.98,"p":4494.8},{"e":4,"k":4,"i":220.04,"p":4487.6},{"e":4,"k":5,"i":220.98,"p":4480.4},{"e":4,"k":6,"i":223.24,"p":4477.4},{"e":4,"k":7,"i":225.5,"p":4480.4},
{"e":5,"k":0,"i":243.33,"p":4468.4},{"e":5,"k":1,"i":241.85,"p":4479.4},{"e":5,"k":2,"i":238.28,"p":4483.9},{"e":5,"k":3,"i":234.71,"p":4479.4},{"e":5,"k":4,"i":233.23,"p":4468.4},{"e":5,"k":5,"i":234.71,"p":4457.4},{"e":5,"k":6,"i":238.28,"p":4452.9},{"e":5,"k":7,"i":241.85,"p":4457.4}
]
},
"encoding":{
"x":{"field":"i","type":"quantitative","title":null,
 "scale":{"domain":[-0.66,268.73],"nice":false,"zero":false,"padding":0},
 "axis":{"values":[0,20,40,60,80,100,120,140,160,180,200,220,240,260],"grid":true,"gridColor":"#f2f3f4","gridWidth":1,"domain":false,"ticks":false,"labelFontSize":12,"labelColor":"#4f5559","labelFont":"Roboto","labelAlign":"left","labelBaseline":"top","labelPadding":12,"labelFlush":false,"labelOverlap":false,
 "labelExpr":"['17.07.2023\u00a0\u00a000:00','20.07\u00a0\u00a008:00','25.07\u00a0\u00a016:00','31.07\u00a0\u00a000:00','03.08\u00a0\u00a008:00','08.08\u00a0\u00a016:00','14.08\u00a0\u00a000:00','17.08\u00a0\u00a008:00','22.08\u00a0\u00a016:00','28.08\u00a0\u00a000:00','31.08\u00a0\u00a008:00','05.09\u00a0\u00a020:00','11.09\u00a0\u00a004:00','14.09\u00a0\u00a012:00'][round(datum.value/20)]"}},
"y":{"field":"p","type":"quantitative","title":null,
 "scale":{"domain":[4344,4639.8],"nice":false,"zero":false},
 "axis":{"orient":"right","title":null,"values":[4344,4358.8,4373.6,4388.4,4403.2,4418,4432.8,4447.6,4462.4,4477.2,4491.9,4506.7,4521.5,4536.3,4551.1,4565.9,4580.7,4595.5,4610.3,4625.1],"format":".1f","grid":true,"gridColor":"#f2f3f4","gridWidth":1,"domain":false,"ticks":false,"labelFontSize":12,"labelColor":"#4f5559","labelFont":"Roboto","labelPadding":8,"labelFlush":false,"labelOverlap":false,"labelBaseline":"middle"}}
},
"layer":[
{"data":{"name":"candles"},"mark":{"type":"rule","strokeWidth":1},
 "encoding":{"y":{"field":"l","type":"quantitative"},"y2":{"field":"h"},
 "stroke":{"field":"d","type":"nominal","legend":null,"scale":{"domain":["u","d"],"range":["#15795a","#a9162c"]}}}},
{"data":{"name":"candles"},"mark":{"type":"bar","size":4,"strokeWidth":1},
 "encoding":{"y":{"field":"o","type":"quantitative"},"y2":{"field":"c"},
 "fill":{"field":"d","type":"nominal","legend":null,"scale":{"domain":["u","d"],"range":["#22ab6e","#f5283e"]}},
 "stroke":{"field":"d","type":"nominal","legend":null,"scale":{"domain":["u","d"],"range":["#15795a","#a9162c"]}}}},
{"data":{"name":"sma"},"mark":{"type":"line","strokeWidth":1.2},
 "encoding":{"detail":{"field":"s"},"color":{"field":"s","type":"nominal","legend":null,"scale":{"domain":["sma20","sma50","sma200"],"range":["#e5262f","#1f8f6a","#4c57b8"]}}}},
{"data":{"values":[{"i":-0.66,"i2":267.98,"p":4472.2}]},"mark":{"type":"rule","stroke":"#7d8a8d","strokeWidth":1},
 "encoding":{"x2":{"field":"i2"}}},
{"data":{"values":[{"i":269.33,"i2":277.13,"p":4475.3,"p2":4468.4}]},"mark":{"type":"rect","fill":"#88908f"},
 "encoding":{"x2":{"field":"i2"},"y2":{"field":"p2"}}},
{"data":{"values":[{"i":268.65,"p":4471.9}]},"mark":{"type":"point","shape":"M0.53,-1 L0.53,1 L-0.53,0 Z","size":289,"filled":true,"fill":"#88908f","opacity":1,"strokeWidth":0},"encoding":{}},
{"data":{"values":[{"i":269.93,"p":4471.7,"t":"4472.2"}]},"mark":{"type":"text","align":"left","baseline":"middle","fontSize":12,"fill":"white"},"encoding":{"text":{"field":"t"}}},
{"data":{"values":[{"i":85.48,"i2":115.24,"p":4531.3,"p2":4495.7}]},"mark":{"type":"rect","fill":null,"stroke":"#fd8126","strokeWidth":4},
 "encoding":{"x2":{"field":"i2"},"y2":{"field":"p2"}}},
{"data":{"values":[{"t":"upper","i":50.79,"p":4633.7},{"t":"upper","i":265.43,"p":4515.2},{"t":"lower","i":147.04,"p":4348.9},{"t":"lower","i":268.38,"p":4411.8}]},"mark":{"type":"line","stroke":"#f51e2f","strokeWidth":3.4},
 "encoding":{"detail":{"field":"t"}}},
{"data":{"values":[{"i":241.43,"p":4496.7},{"i":251.03,"p":4496.7}]},"mark":{"type":"line","stroke":"#f51e2f","strokeWidth":4.5},"encoding":{}},
{"data":{"name":"circles"},"mark":{"type":"line","interpolate":"cardinal-closed","stroke":"#3f49d2","strokeWidth":3.3},
 "encoding":{"detail":{"field":"e"},"order":{"field":"k"}}},
{"data":{"values":[{"i":142.9,"i2":162.5,"p":4559.2,"p2":4534.7}]},"mark":{"type":"rect","fill":"white"},"encoding":{"x2":{"field":"i2"},"y2":{"field":"p2"}}},
{"data":{"values":[{"i":144.84,"i2":150.94,"p":4554.2,"p2":4537.8}]},"mark":{"type":"rect","fill":"#ee3124"},"encoding":{"x2":{"field":"i2"},"y2":{"field":"p2"}}},
{"data":{"values":[{"i":147.88,"p":4546}]},"mark":{"type":"point","shape":"M-1,-0.4 L-0.1,-0.15 L0.95,-0.6 L0.35,0 L0.95,0.5 L-0.1,0.15 L-0.95,0.4 L-0.4,0 Z","size":1024,"filled":true,"fill":"white","opacity":1,"strokeWidth":0},"encoding":{}},
{"data":{"values":[{"i":152.03,"p":4543.7,"t":"xtb"}]},"mark":{"type":"text","align":"left","baseline":"alphabetic","font":"DejaVu Sans","fontWeight":"bold","fontSize":31,"fill":"#1a1a1a"},"encoding":{"text":{"field":"t"}}},
{"data":{"values":[{"i":152.03,"p":4538.8,"t":"online trading"}]},"mark":{"type":"text","align":"left","baseline":"alphabetic","fontSize":10,"fill":"#666666"},"encoding":{"text":{"field":"t"}}},
{"data":{"values":[{"i":2.04,"p":4639.4,"t":"US500"}]},"mark":{"type":"text","align":"left","baseline":"middle","fontSize":13,"fontWeight":"bold","fill":"#4b5560"},"encoding":{"text":{"field":"t"}}},
{"data":{"values":[{"i":8.04,"p":4639.4,"t":"IND"}]},"mark":{"type":"text","align":"left","baseline":"middle","fontSize":8,"fontWeight":"bold","fill":"#9aa0a6"},"encoding":{"text":{"field":"t"}}},
{"data":{"values":[{"i":18.09,"i2":24.39,"p":4642.7,"p2":4637}]},"mark":{"type":"rect","fill":"white","stroke":"#dcdcdc","strokeWidth":1,"cornerRadius":2},"encoding":{"x2":{"field":"i2"},"y2":{"field":"p2"}}},
{"data":{"values":[{"i":18.69,"p":4639,"t":"H4"}]},"mark":{"type":"text","align":"left","baseline":"middle","fontSize":12,"fill":"#6b7680"},"encoding":{"text":{"field":"t"}}},
{"data":{"values":[{"i":11.94,"p":4640.4},{"i":23.34,"p":4640.4}]},"mark":{"type":"point","shape":"triangle-down","size":30,"filled":true,"fill":"#9a9a9a","opacity":1,"strokeWidth":0},"encoding":{}},
{"data":{"values":[{"i":3.69,"p":4357.5,"t":"SMA [20, 0] 4467.0"},{"i":3.69,"p":4351.9,"t":"SMA [200, 0] 4495.3"},{"i":3.69,"p":4346.3,"t":"SMA [50, 0] 4498.2"}]},"mark":{"type":"text","align":"left","baseline":"middle","fontSize":10,"fill":"#858585"},"encoding":{"text":{"field":"t"}}},
{"data":{"values":[{"i":0.54,"p":4358,"t":"☰"},{"i":0.54,"p":4352.4,"t":"☰"},{"i":0.54,"p":4346.8,"t":"☰"}]},"mark":{"type":"text","align":"center","baseline":"middle","font":"DejaVu Sans","fontSize":10,"fill":"#bdbdbd"},"encoding":{"text":{"field":"t"}}},
{"data":{"values":[{"i":2.49,"p":4358,"t":"✖"},{"i":2.49,"p":4352.4,"t":"✖"},{"i":2.49,"p":4346.8,"t":"✖"}]},"mark":{"type":"text","align":"center","baseline":"middle","font":"DejaVu Sans","fontSize":8,"fill":"#c2c2c2"},"encoding":{"text":{"field":"t"}}},
{"data":{"values":[{"i":260.04,"p":4351.8,"t":"00"},{"i":264.24,"p":4351.8,"t":"36"}]},"mark":{"type":"text","align":"left","baseline":"middle","fontSize":14,"fontWeight":"bold","fill":"#ff9d1e"},"encoding":{"text":{"field":"t"}}},
{"data":{"values":[{"i":262.44,"p":4351.8,"t":"h"},{"i":266.79,"p":4351.8,"t":"m"}]},"mark":{"type":"text","align":"left","baseline":"middle","fontSize":14,"fill":"#c6c6c6"},"encoding":{"text":{"field":"t"}}}
]
}
